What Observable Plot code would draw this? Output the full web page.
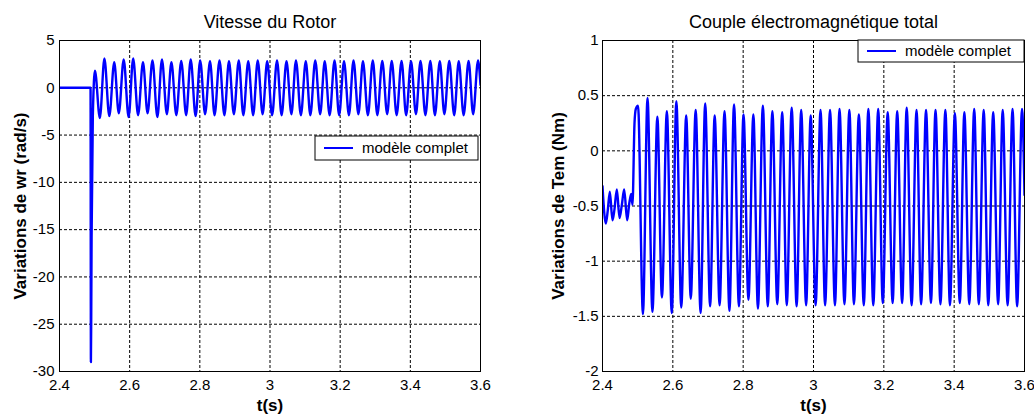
<!DOCTYPE html>
<html><head><meta charset="utf-8">
<script src="https://cdn.jsdelivr.net/npm/d3@7"></script>
<script src="https://cdn.jsdelivr.net/npm/@observablehq/plot@0.6"></script>
<style>
body{margin:0;background:#fff}
#wrap{display:flex;width:1034px;height:417px;background:#fff}
svg{font-family:"Liberation Sans",Arial,sans-serif}
</style>
</head><body><div id="wrap"></div>
<script>
// ---- shared axis ticks ----
const xTicks = [2.4, 2.6, 2.8, 3, 3.2, 3.4, 3.6];
const yTicksW = [5, 0, -5, -10, -15, -20, -25, -30];
const yTicksT = [1, 0.5, 0, -0.5, -1, -1.5, -2];

// ---- time of the oscillation extremes ----
const tPeak = [2.501, 2.528, 2.556, 2.583, 2.610, 2.638, 2.665, 2.692, 2.719, 2.747, 2.774, 2.801, 2.829, 2.856, 2.883, 2.911, 2.938, 2.965, 2.992, 3.020, 3.047, 3.074, 3.102, 3.129, 3.156, 3.184, 3.211, 3.238, 3.265, 3.293, 3.320, 3.347, 3.375, 3.402, 3.429, 3.457, 3.484, 3.511, 3.538, 3.566, 3.593];
const tTrough = [2.515, 2.542, 2.569, 2.597, 2.624, 2.651, 2.679, 2.706, 2.733, 2.761, 2.788, 2.815, 2.842, 2.870, 2.897, 2.924, 2.952, 2.979, 3.006, 3.033, 3.061, 3.088, 3.115, 3.143, 3.170, 3.197, 3.225, 3.252, 3.279, 3.306, 3.334, 3.361, 3.388, 3.416, 3.443, 3.470, 3.497, 3.525, 3.552, 3.579];

// ---- Vitesse du rotor (rad/s) ----
const tStartW = [2.4, 2.4885, 2.4895, 2.4905, 2.4915, 2.495];
const wStart  = [0, 0, -29, -23.7, -15.8, -3];
const wPeaks  = [1.8,3.1,2.7,3.0,3.1,2.7,2.9,3.0,2.7,2.85, 3.0,2.9,2.8,2.9,2.8,2.9,2.8,2.9,2.8,2.9, 2.8,2.9,2.8,2.9,2.8,2.9,2.8,2.9,2.8,2.9, 2.85,2.85,2.85,2.8,2.85,2.85,2.8,2.85,2.8,2.85, 2.9];
const wTroughs = [-3.2,-3.0,-2.7,-3.1,-2.9,-2.7,-3.1,-2.8,-2.9,-2.9, -3.0,-2.8,-2.9,-2.9,-2.8,-2.9,-2.9,-2.8,-2.9,-2.9, -2.8,-2.9,-2.9,-2.8,-2.9,-2.9,-2.9,-2.8,-2.9,-2.9, -2.8,-2.9,-2.9,-2.8,-2.9,-2.9,-2.8,-2.9,-2.9,-2.8];
const wEnd = 0.3;

// ---- Couple électromagnétique (Nm) ----
const tStartT = [2.4, 2.4095, 2.415, 2.4208, 2.4284, 2.434, 2.4408, 2.4484, 2.455, 2.4616, 2.4702, 2.476, 2.4815, 2.4853, 2.491, 2.4948];
const temStart = [-0.32, -0.66, -0.54, -0.37, -0.63, -0.53, -0.35, -0.61, -0.49, -0.35, -0.63, -0.48, -0.39, -0.49, 0.25, 0.38];
const temPeaks = [0.41,0.48,0.31,0.36,0.45,0.32,0.37,0.43,0.32,0.36, 0.42,0.33,0.33,0.41,0.36,0.35,0.39,0.37,0.32,0.37, 0.37,0.38,0.37,0.33,0.38,0.38,0.35,0.36,0.39,0.37, 0.37,0.37,0.37,0.34,0.35,0.38,0.37,0.35,0.37,0.38, 0.38];
const temTroughs = [-1.48,-1.46,-1.33,-1.47,-1.42,-1.34,-1.47,-1.41,-1.40,-1.45, -1.41,-1.35,-1.43,-1.41,-1.39,-1.40,-1.41,-1.40,-1.40,-1.40, -1.40,-1.39,-1.39,-1.40,-1.40,-1.38,-1.38,-1.38,-1.40,-1.39, -1.38,-1.39,-1.40,-1.38,-1.39,-1.39,-1.40,-1.39,-1.40,-1.41];
const temEnd = -0.4;
const tEnd = 3.6;

function buildRows(tS, vS, peaks, troughs, vE) {
  const rows = tS.map((t, i) => ({t, v: vS[i]}));
  peaks.forEach((p, i) => {
    rows.push({t: tPeak[i], v: p});
    if (i < troughs.length) rows.push({t: tTrough[i], v: troughs[i]});
  });
  rows.push({t: tEnd, v: vE});
  return rows;
}

const fmt = d => String(d);

function chart({rows, yDomain, yTicks, marginLeft, marginRight, title, ylabel, ylabelDx, tickPad, legend}) {
  const svg = Plot.plot({
    width: 517, height: 417,
    marginLeft, marginRight, marginTop: 40, marginBottom: 46,
    style: {fontFamily: '"Liberation Sans", Arial, sans-serif', fontSize: "15px", color: "#000", background: "#fff"},
    x: {domain: [2.4, 3.6], label: null},
    y: {domain: yDomain, label: null},
    marks: [
      Plot.gridX(xTicks, {stroke: "#000", strokeOpacity: 1, strokeDasharray: "3,2"}),
      Plot.gridY(yTicks, {stroke: "#000", strokeOpacity: 1, strokeDasharray: "3,2"}),
      Plot.line(rows, {x: "t", y: "v", stroke: "#0000ff", strokeWidth: 2.4, curve: "monotone-x", clip: true}),
      Plot.frame({stroke: "#000", strokeWidth: 1}),
      Plot.axisX(xTicks, {tickSize: 0, tickPadding: 8, tickFormat: fmt, label: null, fontSize: 15}),
      Plot.axisY(yTicks, {tickSize: 0, tickPadding: tickPad, tickFormat: fmt, label: null, fontSize: 15}),
      Plot.text([title], {text: d => d, frameAnchor: "top", dy: -18, lineAnchor: "middle", fontSize: 18}),
      Plot.text(["t(s)"], {text: d => d, frameAnchor: "bottom", dy: 34, lineAnchor: "middle", fontSize: 17, fontWeight: "bold"}),
      Plot.text([ylabel], {text: d => d, frameAnchor: "left", dx: ylabelDx, rotate: -90, lineAnchor: "middle", textAnchor: "middle", fontSize: 17, fontWeight: "bold"})
    ]
  });
  const s = d3.select(svg);
  const g = s.append("g");
  g.append("rect").attr("x", legend.x).attr("y", legend.y).attr("width", legend.w).attr("height", legend.h)
    .attr("fill", "#fff").attr("stroke", "#000");
  const my = legend.y + legend.h / 2;
  g.append("line").attr("x1", legend.x + 9).attr("x2", legend.x + 38).attr("y1", my).attr("y2", my)
    .attr("stroke", "#0000ff").attr("stroke-width", 2);
  g.append("text").attr("x", legend.x + 47).attr("y", my).attr("dy", "0.35em")
    .attr("text-anchor", "start").attr("font-size", 15).attr("fill", "#000").text("modèle complet");
  return svg;
}

const wrap = document.getElementById("wrap");
wrap.appendChild(chart({
  rows: buildRows(tStartW, wStart, wPeaks, wTroughs, wEnd),
  yDomain: [-30, 5], yTicks: yTicksW, marginLeft: 59, marginRight: 37,
  title: "Vitesse du Rotor", ylabel: "Variations de wr (rad/s)", ylabelDx: -39, tickPad: 5,
  legend: {x: 315, y: 136, w: 163, h: 24}
}));
wrap.appendChild(chart({
  rows: buildRows(tStartT, temStart, temPeaks, temTroughs, temEnd),
  yDomain: [-2, 1], yTicks: yTicksT, marginLeft: 85, marginRight: 10,
  title: "Couple électromagnétique total", ylabel: "Variations de Tem (Nm)", ylabelDx: -44, tickPad: 4,
  legend: {x: 341, y: 40, w: 166, h: 22}
}));
</script>
</body></html>
